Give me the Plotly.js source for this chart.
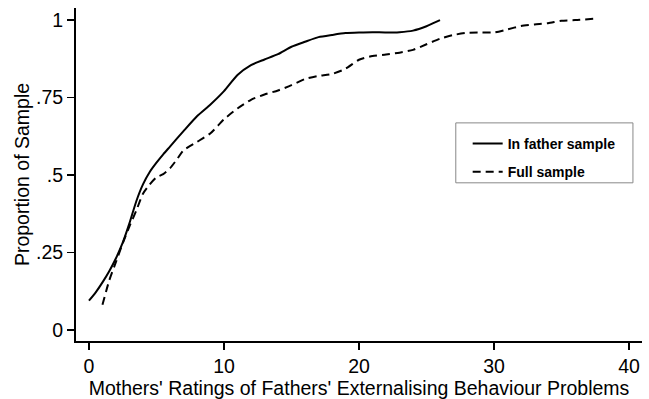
<!DOCTYPE html>
<html><head><meta charset="utf-8">
<script src="https://cdn.plot.ly/plotly-3.0.1.min.js"></script>
<style>html,body{margin:0;padding:0;background:#fff}#chart{width:649px;height:399px}</style>
</head><body><div id="chart"></div>
<script>
const fatherX = [0, 0.5, 1, 1.5, 2, 2.5, 3, 3.5, 4, 4.5, 5, 5.5, 6, 7, 8, 9, 10, 11, 12, 13, 14, 15, 16, 17, 18, 19, 20, 21, 22, 23, 24, 25, 25.5, 26];
const fatherY = [0.095, 0.122, 0.154, 0.19, 0.232, 0.282, 0.345, 0.415, 0.47, 0.51, 0.54, 0.567, 0.592, 0.642, 0.69, 0.728, 0.771, 0.823, 0.855, 0.873, 0.89, 0.914, 0.93, 0.945, 0.952, 0.958, 0.96, 0.961, 0.96, 0.961, 0.966, 0.98, 0.99, 1.0];
const fullX = [1, 1.5, 2, 2.5, 3, 3.5, 4, 4.5, 5, 5.5, 6, 6.5, 7, 8, 9, 10, 11, 12, 13, 14, 15, 16, 17, 18, 19, 20, 21, 22, 23, 24, 25, 26, 27, 28, 29, 30, 31, 32, 33, 34, 35, 36, 37.6];
const fullY = [0.082, 0.16, 0.22, 0.28, 0.335, 0.385, 0.44, 0.47, 0.493, 0.503, 0.522, 0.55, 0.58, 0.607, 0.635, 0.68, 0.715, 0.743, 0.76, 0.773, 0.79, 0.81, 0.82, 0.826, 0.843, 0.872, 0.884, 0.889, 0.895, 0.904, 0.922, 0.94, 0.952, 0.959, 0.96, 0.96, 0.97, 0.981, 0.986, 0.99, 0.998, 1.0, 1.005];
const seriesNames = ["In father sample", "Full sample"];
const xTicks = [0, 10, 20, 30, 40];
const yTickVals = [0, 0.25, 0.5, 0.75, 1];
const yTickText = ["0", ".25", ".5", ".75", "1"];
const xTitle = "Mothers' Ratings of Fathers' Externalising Behaviour Problems";
const yTitle = "Proportion of Sample";

const FONT = "Arial, 'Liberation Sans', sans-serif";
const traces = [
  {x: fatherX, y: fatherY, name: seriesNames[0], mode: "lines", legendgroup: "a",
   line: {color: "#000", width: 2, shape: "spline", smoothing: 0.6}},
  {x: fullX, y: fullY, name: seriesNames[1], mode: "lines", legendgroup: "b",
   line: {color: "#000", width: 2, dash: "8px,5px", shape: "spline", smoothing: 0.6}}
];
const layout = {
  width: 649, height: 399,
  margin: {l: 76, r: 7, t: 8, b: 58},
  paper_bgcolor: "#fff", plot_bgcolor: "#fff",
  font: {family: FONT, color: "#000", size: 19.5},
  showlegend: true,
  legend: {x: 0.692, y: 0.64, xanchor: "left", yanchor: "top", bgcolor: "rgba(0,0,0,0)",
           borderwidth: 0, traceorder: "grouped", tracegroupgap: 7,
           font: {family: FONT, size: 14, weight: "bold", color: "#000"}},
  shapes: [{type: "rect", xref: "paper", yref: "paper", x0: 0.671, x1: 0.984, y0: 0.475, y1: 0.655,
            line: {color: "#888", width: 1}}],
  xaxis: {range: [-0.96, 40.96], tickvals: xTicks, ticks: "outside", ticklen: 7, tickwidth: 1.5,
          tickcolor: "#000", showline: true, linecolor: "#000", linewidth: 2, showgrid: false, zeroline: false,
          tickfont: {size: 19.5}, title: {text: xTitle, font: {size: 19.5}, standoff: 12}},
  yaxis: {range: [-0.035, 1.039], tickvals: yTickVals, ticktext: yTickText, ticks: "outside", ticklen: 7,
          tickwidth: 1.5, tickcolor: "#000", showline: true, linecolor: "#000", linewidth: 2, showgrid: false,
          zeroline: false, tickfont: {size: 19.5}, title: {text: yTitle, font: {size: 19.5}, standoff: 1}}
};
Plotly.newPlot("chart", traces, layout, {staticPlot: true, displayModeBar: false});
</script></body></html>
